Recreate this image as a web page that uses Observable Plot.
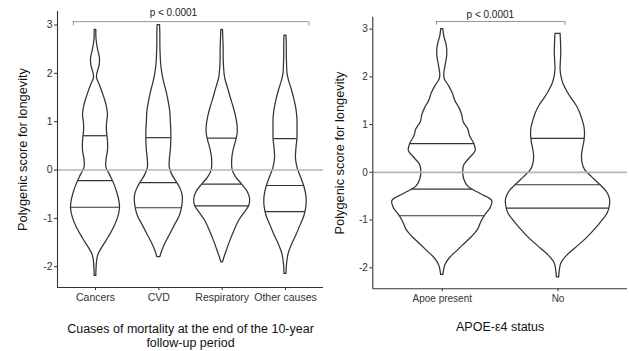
<!DOCTYPE html>
<html><head><meta charset="utf-8">
<script src="https://cdn.jsdelivr.net/npm/d3@7"></script>
<script src="https://cdn.jsdelivr.net/npm/@observablehq/plot@0.6"></script>
<style>
body{margin:0;background:#fff;}
#wrap{position:relative;width:629px;height:351px;font-family:"Liberation Sans",Arial,sans-serif;background:#fff;}
#left{position:absolute;left:0;top:0;}
#right{position:absolute;left:325px;top:0;}
</style></head><body>
<div id="wrap"><div id="left"></div><div id="right"></div></div>
<script>
// ---------- data ----------
const causes = ["Cancers", "CVD", "Respiratory", "Other causes"];
const apoeGroups = ["Apoe present", "No"];
const yTicks = [-2, -1, 0, 1, 2, 3];
const pLabel = "p < 0.0001";
const yTitle = "Polygenic score for longevity";
const causesTitle = "Cuases of mortality at the end of the 10-year\nfollow-up period";
const apoeTitle = "APOE-\u03b54 status";

// violin density profiles: [score, violin half-width (category units)]
const cancersProfile = [[2.90,0.013],[2.70,0.016],[2.50,0.039],[2.30,0.071],[2.15,0.063],[2.00,0.031],[1.90,0.024],[1.75,0.071],[1.55,0.126],[1.35,0.173],[1.15,0.197],[0.95,0.181],[0.80,0.181],[0.60,0.197],[0.40,0.197],[0.20,0.173],[0.05,0.173],[-0.10,0.228],[-0.25,0.283],[-0.45,0.339],[-0.65,0.378],[-0.80,0.386],[-1.00,0.354],[-1.20,0.291],[-1.40,0.205],[-1.60,0.110],[-1.75,0.047],[-1.90,0.024],[-2.05,0.016],[-2.19,0.013]];
const cvdProfile = [[3.00,0.019],[2.80,0.024],[2.60,0.024],[2.40,0.028],[2.20,0.036],[2.00,0.055],[1.80,0.087],[1.60,0.126],[1.40,0.157],[1.20,0.181],[1.00,0.189],[0.80,0.197],[0.60,0.197],[0.40,0.189],[0.20,0.173],[0.05,0.173],[-0.10,0.213],[-0.25,0.283],[-0.40,0.346],[-0.55,0.378],[-0.75,0.370],[-0.95,0.331],[-1.15,0.252],[-1.35,0.173],[-1.55,0.094],[-1.70,0.047],[-1.80,0.024]];
const respiratoryProfile = [[2.90,0.013],[2.70,0.019],[2.50,0.024],[2.30,0.024],[2.10,0.031],[1.90,0.047],[1.70,0.091],[1.50,0.134],[1.30,0.181],[1.10,0.220],[0.90,0.244],[0.75,0.244],[0.60,0.220],[0.45,0.189],[0.30,0.165],[0.15,0.157],[0.00,0.165],[-0.15,0.220],[-0.30,0.315],[-0.45,0.402],[-0.60,0.441],[-0.75,0.425],[-0.90,0.346],[-1.05,0.268],[-1.25,0.197],[-1.45,0.134],[-1.65,0.079],[-1.80,0.039],[-1.91,0.013]];
const otherProfile = [[2.78,0.016],[2.60,0.020],[2.40,0.020],[2.20,0.024],[2.00,0.031],[1.85,0.055],[1.65,0.102],[1.45,0.142],[1.25,0.173],[1.05,0.189],[0.85,0.189],[0.65,0.189],[0.45,0.173],[0.25,0.165],[0.05,0.189],[-0.15,0.244],[-0.35,0.299],[-0.55,0.331],[-0.75,0.331],[-0.95,0.299],[-1.15,0.236],[-1.35,0.173],[-1.55,0.102],[-1.75,0.047],[-1.95,0.024],[-2.15,0.016]];
const apoePresentProfile = [[3.00,0.009],[2.85,0.017],[2.65,0.039],[2.45,0.043],[2.25,0.030],[2.05,0.017],[1.95,0.022],[1.80,0.060],[1.65,0.091],[1.50,0.112],[1.35,0.147],[1.20,0.172],[1.05,0.185],[0.90,0.224],[0.75,0.241],[0.60,0.276],[0.45,0.289],[0.30,0.241],[0.15,0.190],[0.00,0.181],[-0.15,0.190],[-0.30,0.224],[-0.45,0.328],[-0.60,0.431],[-0.75,0.418],[-0.90,0.371],[-1.05,0.336],[-1.20,0.310],[-1.35,0.259],[-1.50,0.194],[-1.65,0.129],[-1.80,0.065],[-1.95,0.026],[-2.05,0.016],[-2.15,0.010]];
const apoeNoProfile = [[2.90,0.022],[2.70,0.026],[2.50,0.028],[2.30,0.024],[2.15,0.022],[2.00,0.030],[1.85,0.047],[1.70,0.078],[1.55,0.116],[1.40,0.159],[1.25,0.190],[1.10,0.211],[0.95,0.228],[0.80,0.233],[0.65,0.228],[0.50,0.216],[0.35,0.207],[0.20,0.211],[0.05,0.233],[-0.10,0.293],[-0.25,0.358],[-0.40,0.418],[-0.55,0.448],[-0.70,0.448],[-0.85,0.431],[-1.00,0.388],[-1.20,0.319],[-1.40,0.241],[-1.60,0.147],[-1.75,0.078],[-1.90,0.030],[-2.05,0.016],[-2.20,0.010]];

// quartiles (25%, 50%, 75%)
const causesQuartiles = [[-0.77,-0.22,0.71],[-0.78,-0.26,0.67],[-0.74,-0.29,0.66],[-0.86,-0.32,0.65]];
const apoeQuartiles = [[-0.91,-0.35,0.60],[-0.75,-0.26,0.71]];

// comparison brackets (x in category units, y in score units)
const causesBracket = {x1: 0.65, x2: 4.37, y: 3.07, tip: 2.98, labelX: 2.23, labelY: 3.26};
const apoeBracket = {x1: 0.95, x2: 2.06, y: 3.16, tip: 3.08, labelX: 1.415, labelY: 3.30};

// ---------- drawing ----------
const FONT = "'Liberation Sans', Arial, sans-serif";
const INK = "#333";

function widthAt(profile, q) {
  const p = profile.slice().sort((a, b) => a[0] - b[0]);
  for (let k = 0; k < p.length - 1; k++) {
    if (q >= p[k][0] && q <= p[k + 1][0]) {
      const t = (q - p[k][0]) / (p[k + 1][0] - p[k][0]);
      return p[k][1] + t * (p[k + 1][1] - p[k][1]);
    }
  }
  return 0;
}

function panel(o) {
  const n = o.cats.length;
  const xDom = [0.4, n + 0.6];
  const rows = [];
  o.profiles.forEach((prof, i) => prof.forEach(([v, w]) => rows.push({cat: o.cats[i], pos: i + 1, v, w})));
  const qrows = [];
  o.quartiles.forEach((qs, i) => qs.forEach(q => qrows.push({pos: i + 1, q, w: widthAt(o.profiles[i], q)})));
  const b = o.bracket;
  return Plot.plot({
    width: o.width, height: o.height,
    marginLeft: o.ml, marginRight: o.mr, marginTop: o.mt, marginBottom: o.mb,
    style: {fontFamily: FONT, fontSize: o.tickFont + "px", color: "#333", background: "#fff", overflow: "visible"},
    x: {domain: xDom, ticks: o.cats.map((_, i) => i + 1), tickFormat: d => o.cats[d - 1], tickSize: 3, tickPadding: 3, label: null},
    y: {domain: o.yDom, ticks: yTicks, tickFormat: d => String(d), tickSize: 3, tickPadding: 2, label: null},
    marks: [
      Plot.areaX(rows, {y: "v", x1: d => d.pos - d.w, x2: d => d.pos + d.w, z: "cat", fill: "none", stroke: INK, strokeWidth: 1.25, curve: "catmull-rom"}),
      Plot.ruleY(qrows, {y: "q", x1: d => d.pos - d.w, x2: d => d.pos + d.w, stroke: INK, strokeWidth: 1.2}),
      Plot.ruleY([0], {stroke: "#b4b4b4", strokeWidth: 1.6}),
      Plot.ruleX([xDom[0]], {stroke: "#333", strokeWidth: 1.1}),
      Plot.ruleY([o.yDom[0]], {stroke: "#333", strokeWidth: 1.1}),
      Plot.ruleY([b], {y: "y", x1: "x1", x2: "x2", stroke: "#8a8a8a", strokeWidth: 0.9}),
      Plot.ruleX([b.x1, b.x2], {x: d => d, y1: b.tip, y2: b.y, stroke: "#8a8a8a", strokeWidth: 0.9}),
      Plot.text([pLabel], {text: d => d, x: b.labelX, y: b.labelY, fontSize: o.pFont, fill: "#222"}),
      Plot.text([yTitle], {text: d => d, frameAnchor: "left", textAnchor: "middle", rotate: -90, dx: o.yTitleDx, fontSize: 12.8, fill: "#111"}),
      Plot.text([o.xTitle], {text: d => d, frameAnchor: "bottom", textAnchor: "middle", lineAnchor: "top", dy: o.xTitleDy, fontSize: 12.5, lineHeight: 1.12, fill: "#111"})
    ]
  });
}

document.getElementById("left").appendChild(panel({
  cats: causes,
  profiles: [cancersProfile, cvdProfile, respiratoryProfile, otherProfile],
  quartiles: causesQuartiles,
  bracket: causesBracket,
  yDom: [-2.43, 3.28],
  width: 325, height: 351, ml: 57, mr: 2, mt: 11, mb: 64,
  tickFont: 10.5, pFont: 10,
  xTitle: causesTitle, yTitleDx: -35, xTitleDy: 36
}));

document.getElementById("right").appendChild(panel({
  cats: apoeGroups,
  profiles: [apoePresentProfile, apoeNoProfile],
  quartiles: apoeQuartiles,
  bracket: apoeBracket,
  yDom: [-2.44, 3.25],
  width: 304, height: 351, ml: 47.3, mr: 2, mt: 16.7, mb: 62.7,
  tickFont: 10, pFont: 10,
  xTitle: apoeTitle, yTitleDx: -32.5, xTitleDy: 32
}));
</script>
</body></html>
